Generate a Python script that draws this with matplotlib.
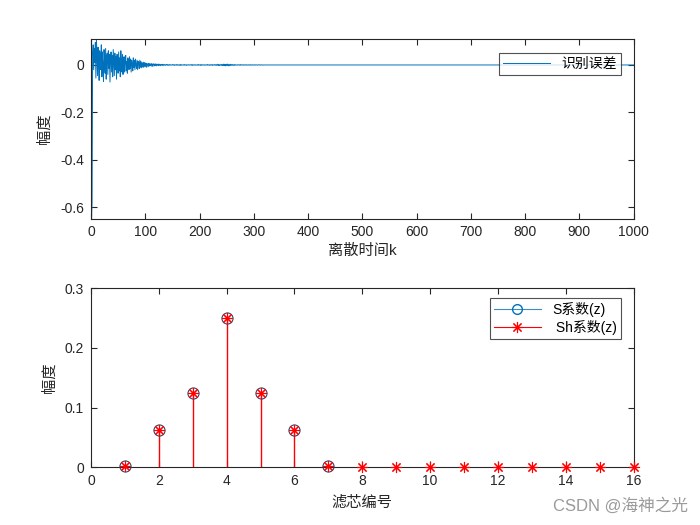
import numpy as np
import matplotlib
matplotlib.use("Agg")
import matplotlib.pyplot as plt
from matplotlib.lines import Line2D
from matplotlib.legend_handler import HandlerLine2D

plt.rcParams['font.family'] = ['Liberation Sans', 'Noto Sans CJK SC', 'DejaVu Sans']

# identification error, k = 1..150
err_head = [
    -0.652, -0.58, 0.05, 0.085, -0.02, 0.07, 0.01, 0.095, -0.055, 0.108,
    0.03, -0.045, 0.075, 0.015, -0.065, 0.06, 0.04, -0.02, 0.085, -0.05,
    0.055, 0.0, -0.07, 0.065, 0.02, -0.035, 0.07, -0.06, 0.035, 0.05,
    -0.04, 0.06, -0.015, 0.045, -0.072, 0.03, 0.055, -0.03, 0.04, -0.05,
    0.065, 0.01, -0.045, 0.05, -0.02, 0.035, -0.06, 0.045, 0.02, -0.035,
    0.055, -0.025, 0.03, -0.05, 0.06, 0.0, -0.03, 0.045, -0.04, 0.025,
    0.035, -0.03, 0.02, 0.04, -0.025, 0.015, -0.035, 0.03, 0.01, -0.02,
    0.035, -0.015, 0.025, -0.03, 0.02, 0.005, -0.025, 0.03, -0.01, 0.02,
    -0.02, 0.025, 0.0, -0.015, 0.02, -0.02, 0.015, 0.01, -0.015, 0.02,
    -0.01, 0.015, -0.012, 0.01, 0.005, -0.01, 0.012, -0.008, 0.01, -0.006,
    0.008, -0.01, 0.006, 0.004, -0.008, 0.007, -0.005, 0.006, -0.004, 0.003,
    0.006, -0.005, 0.004, -0.006, 0.005, 0.002, -0.004, 0.005, -0.003, 0.004,
    -0.004, 0.003, 0.002, -0.003, 0.004, -0.002, 0.003, -0.003, 0.002, 0.001,
    -0.002, 0.003, -0.002, 0.002, -0.001, 0.002, -0.002, 0.001, 0.002, -0.001,
    0.002, -0.002, 0.001, -0.001, 0.002, -0.001, 0.001, 0.0, -0.001, 0.001,
]
# small residual wiggle, k = 151..320
err_tail = [
    0.002, -0.001, 0.001, -0.002, 0.001, 0.0, -0.001, 0.002, -0.001, 0.001,
    -0.001, 0.001, 0.0, -0.002, 0.002, -0.001, 0.001, -0.001, 0.0, 0.001,
    -0.001, 0.002, -0.001, 0.0, 0.001, -0.002, 0.001, 0.0, -0.001, 0.001,
    0.001, -0.001, 0.0, 0.001, -0.001, 0.002, -0.002, 0.001, 0.0, -0.001,
    0.001, -0.001, 0.001, 0.0, -0.001, 0.001, -0.001, 0.002, -0.001, 0.0,
    0.001, -0.002, 0.002, -0.001, 0.001, -0.001, 0.0, 0.001, -0.001, 0.001,
    -0.001, 0.0, 0.001, -0.001, 0.002, -0.001, 0.0, 0.001, -0.002, 0.001,
    0.0, -0.001, 0.002, -0.002, 0.001, 0.0, -0.001, 0.002, -0.001, 0.001,
    -0.002, 0.002, -0.001, 0.003, -0.002, 0.001, -0.003, 0.002, 0.0, -0.002,
    0.003, -0.003, 0.002, -0.002, 0.004, -0.003, 0.002, -0.004, 0.003, -0.002,
    0.004, -0.003, 0.003, -0.004, 0.002, -0.003, 0.003, -0.002, 0.002, -0.001,
    0.002, -0.002, 0.001, -0.002, 0.002, -0.001, 0.001, 0.0, -0.001, 0.001,
    -0.001, 0.001, 0.0, -0.001, 0.002, -0.001, 0.001, -0.001, 0.0, 0.001,
    -0.001, 0.001, -0.001, 0.0, 0.001, -0.001, 0.001, 0.0, -0.001, 0.001,
    0.0, -0.001, 0.001, -0.001, 0.001, 0.0, -0.001, 0.001, 0.0, -0.001,
    0.001, 0.0, -0.001, 0.001, 0.0, 0.0, -0.001, 0.001, 0.0, 0.0,
    0.001, -0.001, 0.0, 0.0, 0.001, 0.0, -0.001, 0.0, 0.0, 0.0,
]
n_samples = 1000

# filter coefficients
s_idx = [1, 2, 3, 4, 5, 6, 7]
s_coef = [0.0016, 0.0625, 0.125, 0.25, 0.125, 0.0625, 0.0016]
sh_idx = list(range(1, 17))
sh_coef = [0.0016, 0.0625, 0.125, 0.25, 0.125, 0.0625, 0.0016,
           -0.0004, -0.0003, -0.0002, -0.0003, -0.0002, -0.0001, -0.0002, -0.0001, 0.0]

blue = '#0072BD'
red = '#FF0000'
axcol = '#262626'
asterisk = (8, 2, 0)   # MATLAB-like '*' marker


class HandlerMarkerEnd(HandlerLine2D):
    # MATLAB style legend: marker near the right end of the line
    def get_xdata(self, legend, xdescent, ydescent, width, height, fontsize):
        return [-xdescent, -xdescent + width], [-xdescent + width * 0.85]


def style(ax):
    ax.tick_params(direction='in', top=True, right=True, length=4,
                   colors=axcol, labelsize=10, pad=5)
    for sp in ax.spines.values():
        sp.set_color(axcol)
        sp.set_linewidth(0.8)


err = np.concatenate([err_head, err_tail,
                      np.zeros(n_samples - len(err_head) - len(err_tail))])
k = np.arange(1, n_samples + 1)

fig = plt.figure(figsize=(7, 5.25), dpi=100)
ax1 = fig.add_axes([0.13, 0.5838, 0.775, 0.3412])
ax2 = fig.add_axes([0.13, 0.11, 0.775, 0.3412])

ax1.plot(k, err, color=blue, lw=0.7, label='识别误差')
ax1.set_xlim(0, 1000)
ax1.set_ylim(-0.648, 0.108)
ax1.set_xticks(np.arange(0, 1001, 100))
ax1.set_yticks([-0.6, -0.4, -0.2, 0])
ax1.set_yticklabels(['-0.6', '-0.4', '-0.2', '0'])
ax1.set_xlabel('离散时间k', fontsize=11, color=axcol, labelpad=3)
ax1.set_ylabel('幅度', fontsize=11, color=axcol, labelpad=6)
style(ax1)
leg1 = ax1.legend(loc='upper right', fontsize=10, frameon=True, fancybox=False,
                  handlelength=3.4, borderpad=0.3, bbox_to_anchor=(0.99, 0.965))
leg1.get_frame().set_edgecolor(axcol)
leg1.get_frame().set_linewidth(0.8)

# S stems first, Sh stems on top of them
for x, v in zip(s_idx, s_coef):
    ax2.plot([x, x], [0, v], color=blue, lw=0.5)
for x, v in zip(sh_idx, sh_coef):
    ax2.plot([x, x], [0, v], color=red, lw=1.0)
ax2.plot(s_idx, s_coef, ls='none', marker='o', ms=8, mfc='none',
         mec='#34466e', mew=0.8, clip_on=False, zorder=3)
ax2.plot(sh_idx, sh_coef, ls='none', marker=asterisk, ms=8, color=red,
         mew=0.8, clip_on=False, zorder=4)
ax2.set_xlim(0, 16)
ax2.set_ylim(0, 0.3)
ax2.set_xticks(np.arange(0, 17, 2))
ax2.set_yticks([0, 0.1, 0.2, 0.3])
ax2.set_yticklabels(['0', '0.1', '0.2', '0.3'])
ax2.set_xlabel('滤芯编号', fontsize=11, color=axcol, labelpad=5)
ax2.set_ylabel('幅度', fontsize=11, color=axcol, labelpad=6)
style(ax2)

h_s = Line2D([], [], color='#3a8fbf', lw=0.8, marker='o', mfc='none', mec=blue, ms=7)
h_sh = Line2D([], [], color=red, lw=0.8, marker=asterisk, ms=8, mew=0.8)
leg2 = ax2.legend([h_s, h_sh], ['S系数(z)', ' Sh系数(z)'], loc='upper right',
                  fontsize=10, frameon=True, fancybox=False, handlelength=3.4,
                  borderpad=0.3, labelspacing=0.2, bbox_to_anchor=(0.99, 0.985),
                  handler_map={Line2D: HandlerMarkerEnd(numpoints=1)})
leg2.get_frame().set_edgecolor(axcol)
leg2.get_frame().set_linewidth(0.8)

fig.text(0.983, 0.022, 'CSDN @海神之光', ha='right', va='bottom',
         fontsize=12, color='#9a9a9a')

fig.savefig('out.png', dpi=100)
